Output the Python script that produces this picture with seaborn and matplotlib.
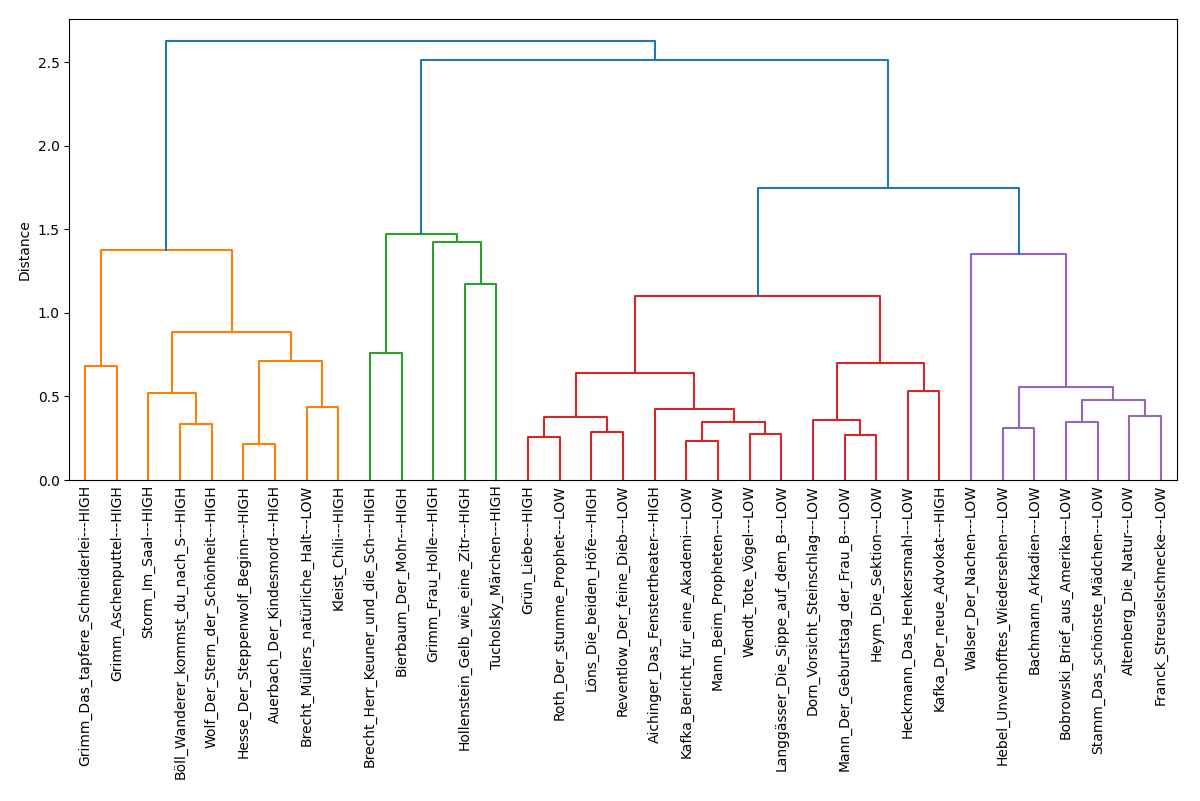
import matplotlib
matplotlib.use('Agg')
import matplotlib.pyplot as plt
import seaborn as sns
import numpy as np
import pandas as pd

# ── DATA ──────────────────────────────────────────────────────
leaf_labels = [
    'Grimm_Das_tapfere_Schneiderlei---HIGH', 'Grimm_Aschenputtel---HIGH',
    'Storm_Im_Saal---HIGH', 'Böll_Wanderer_kommst_du_nach_S---HIGH',
    'Wolf_Der_Stern_der_Schönheit---HIGH', 'Hesse_Der_Steppenwolf_Beginn---HIGH',
    'Auerbach_Der_Kindesmord---HIGH', 'Brecht_Müllers_natürliche_Halt---LOW',
    'Kleist_Chili---HIGH', 'Brecht_Herr_Keuner_und_die_Sch---HIGH',
    'Bierbaum_Der_Mohr---HIGH', 'Grimm_Frau_Holle---HIGH',
    'Hollenstein_Gelb_wie_eine_Zitr---HIGH', 'Tucholsky_Märchen---HIGH',
    'Grün_Liebe---HIGH', 'Roth_Der_stumme_Prophet---LOW',
    'Löns_Die_beiden_Höfe---HIGH', 'Reventlow_Der_feine_Dieb---LOW',
    'Aichinger_Das_Fenstertheater---HIGH', 'Kafka_Bericht_für_eine_Akademi---LOW',
    'Mann_Beim_Propheten---LOW', 'Wendt_Tote_Vögel---LOW',
    'Langgässer_Die_Sippe_auf_dem_B---LOW', 'Dorn_Vorsicht_Steinschlag---LOW',
    'Mann_Der_Geburtstag_der_Frau_B---LOW', 'Heym_Die_Sektion---LOW',
    'Heckmann_Das_Henkersmahl---LOW', 'Kafka_Der_neue_Advokat---HIGH',
    'Walser_Der_Nachen---LOW', 'Hebel_Unverhofftes_Wiedersehen---LOW',
    'Bachmann_Arkadien---LOW', 'Bobrowski_Brief_aus_Amerika---LOW',
    'Stamm_Das_schönste_Mädchen---LOW', 'Altenberg_Die_Natur---LOW',
    'Franck_Streuselschnecke---LOW',
]

# merges in scipy-linkage style: node ids 0..34 are leaves, 35+ are clusters
merge_left = [0, 3, 2, 5, 7, 38, 37, 35,
              9, 12, 11, 43,
              14, 16, 47, 19, 21, 50, 18, 49, 24, 23, 26, 56, 54,
              29, 31, 33, 61, 60, 28,
              59, 46, 42]
merge_right = [1, 4, 36, 6, 8, 39, 40, 41,
               10, 13, 44, 45,
               15, 17, 48, 20, 22, 51, 52, 53, 25, 55, 27, 57, 58,
               30, 32, 34, 62, 63, 64,
               65, 66, 67]
merge_height = [0.684, 0.335, 0.519, 0.215, 0.435, 0.712, 0.884, 1.378,
                0.758, 1.171, 1.426, 1.474,
                0.259, 0.285, 0.377, 0.235, 0.275, 0.345, 0.425, 0.640,
                0.271, 0.359, 0.535, 0.702, 1.099,
                0.311, 0.345, 0.385, 0.477, 0.555, 1.355,
                1.746, 2.513, 2.627]

color_threshold = 1.6

# ── LAYOUT OF THE TREE ────────────────────────────────────────
n = len(leaf_labels)
node_x = [5 + 10 * i for i in range(n)]
node_y = [0.0] * n
for a, b, h in zip(merge_left, merge_right, merge_height):
    node_x.append((node_x[a] + node_x[b]) / 2)
    node_y.append(h)

palette = sns.color_palette('tab10')
above_color = palette[0]
cluster_colors = palette[1:]

# colour each subtree whose root lies below the threshold
link_color = [None] * len(merge_height)

def paint(node, col):
    if node < n:
        return
    k = node - n
    link_color[k] = col
    paint(merge_left[k], col)
    paint(merge_right[k], col)

roots = []
for k, h in enumerate(merge_height):
    if h >= color_threshold:
        link_color[k] = above_color
        for child in (merge_left[k], merge_right[k]):
            if child >= n and merge_height[child - n] < color_threshold:
                roots.append(child)
roots.sort(key=lambda c: node_x[c])
for i, r in enumerate(roots):
    paint(r, cluster_colors[i % len(cluster_colors)])

rows = []
for k, (a, b, h) in enumerate(zip(merge_left, merge_right, merge_height)):
    pts = [(node_x[a], node_y[a]), (node_x[a], h), (node_x[b], h), (node_x[b], node_y[b])]
    for j, (x, y) in enumerate(pts):
        rows.append({'link': k, 'order': j, 'x': x, 'y': y,
                     'color': matplotlib.colors.to_hex(link_color[k])})
links = pd.DataFrame(rows)
color_map = {c: c for c in links['color'].unique()}

# ── PLOT ──────────────────────────────────────────────────────
fig, ax = plt.subplots(figsize=(12, 8.01), dpi=100)
sns.lineplot(data=links, x='x', y='y', units='link', estimator=None, sort=False,
             hue='color', palette=color_map, legend=False, linewidth=1.5, ax=ax)

ax.set_xlim(0, 10 * n)
ax.set_ylim(0, max(merge_height) * 1.05)
ax.set_xticks(node_x[:n])
ax.set_xticklabels(leaf_labels, rotation=90, fontsize=10)
ax.set_xlabel('')
ax.set_ylabel('Distance')
ax.tick_params(axis='x', length=0)

plt.subplots_adjust(left=0.0578, right=0.9806, top=0.9763, bottom=0.4007)
plt.savefig('out.png', dpi=100)
plt.close()
